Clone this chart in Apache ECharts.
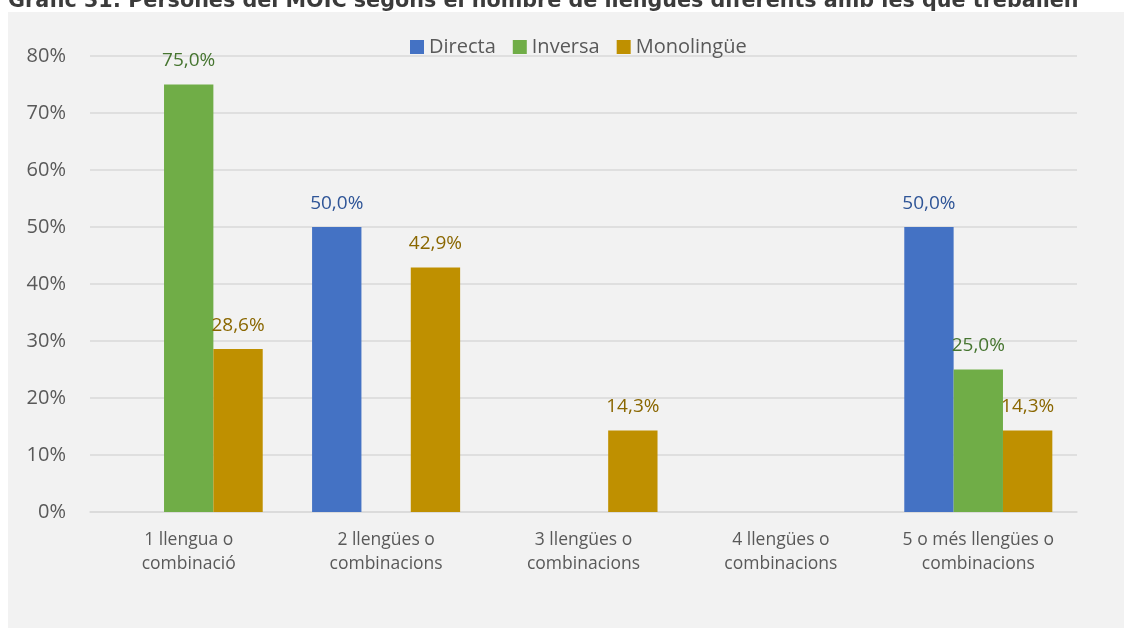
<!DOCTYPE html>
<html>
<head>
<meta charset="utf-8">
<script src="https://cdn.jsdelivr.net/npm/echarts@6/dist/echarts.min.js"></script>
<style>
  html, body { margin: 0; padding: 0; background: #ffffff; }
  #wrap { position: relative; width: 1124px; height: 628px; overflow: hidden; }
  #panel { position: absolute; left: 8px; top: 12px; right: 0; bottom: 0; background: #f2f2f2; }
  #chart { position: absolute; left: 0; top: 0; width: 1124px; height: 628px; }
</style>
</head>
<body>
<div id="wrap">
  <div id="panel"></div>
  <div id="chart"></div>
</div>
<script>
// Chart heading
const titleText = 'Gràfic 31: Persones del MOIC segons el nombre de llengües diferents amb les que treballen';

// Categories (number of languages / combinations)
const categories = [
  '1 llengua o\ncombinació',
  '2 llengües o\ncombinacions',
  '3 llengües o\ncombinacions',
  '4 llengües o\ncombinacions',
  '5 o més llengües o\ncombinacions'
];

// Series values, in percent
const directa    = [0, 50.0, 0, 0, 50.0];
const inversa    = [75.0, 0, 0, 0, 25.0];
const monolingue = [28.6, 42.9, 14.3, 0, 14.3];

// Y axis range
const yMin = 0, yMax = 80, yStep = 10;

const seriesDefs = [
  { name: 'Directa',    data: directa,    color: '#4472C4', labelColor: '#2F5597' },
  { name: 'Inversa',    data: inversa,    color: '#70AD47', labelColor: '#467530' },
  { name: 'Monolingüe', data: monolingue, color: '#BF9000', labelColor: '#8A6700' }
];

const fmt = v => v.toFixed(1).replace('.', ',') + '%';

const chart = echarts.init(document.getElementById('chart'), null, { renderer: 'canvas' });

chart.setOption({
  backgroundColor: 'transparent',
  animation: false,
  textStyle: { fontFamily: 'Open Sans' },
  graphic: [{
    type: 'text',
    left: 8,
    top: -9,
    style: {
      text: titleText,
      font: 'bold 20.7px "DejaVu Sans"',
      fill: '#3b3b3b'
    }
  }],
  legend: {
    left: 405,
    top: 32,
    itemWidth: 14,
    itemHeight: 14,
    itemGap: 17,
    icon: 'rect',
    textStyle: { fontSize: 20, color: '#595959', fontFamily: 'Open Sans' },
    data: seriesDefs.map(s => s.name)
  },
  grid: { left: 90, right: 47, top: 56, bottom: 116, containLabel: false },
  xAxis: {
    type: 'category',
    data: categories,
    axisLine: { show: true, lineStyle: { color: '#d9d9d9', width: 1.5 } },
    axisTick: { show: false },
    axisLabel: {
      color: '#595959',
      fontSize: 17.5,
      lineHeight: 24,
      margin: 16,
      interval: 0,
      fontFamily: 'Open Sans'
    }
  },
  yAxis: {
    type: 'value',
    min: yMin,
    max: yMax,
    interval: yStep,
    axisLine: { show: false },
    axisTick: { show: false },
    splitLine: { lineStyle: { color: '#d9d9d9', width: 1.5 } },
    axisLabel: {
      color: '#595959',
      fontSize: 20,
      margin: 24,
      fontFamily: 'Open Sans',
      formatter: '{value}%'
    }
  },
  series: seriesDefs.map(s => ({
    name: s.name,
    type: 'bar',
    data: s.data,
    barGap: '0%',
    barCategoryGap: '25%',
    itemStyle: { color: s.color },
    label: {
      show: true,
      position: 'top',
      distance: 14,
      color: s.labelColor,
      fontSize: 19,
      fontFamily: 'Open Sans',
      formatter: p => (p.value ? fmt(p.value) : '')
    }
  }))
});
</script>
</body>
</html>
